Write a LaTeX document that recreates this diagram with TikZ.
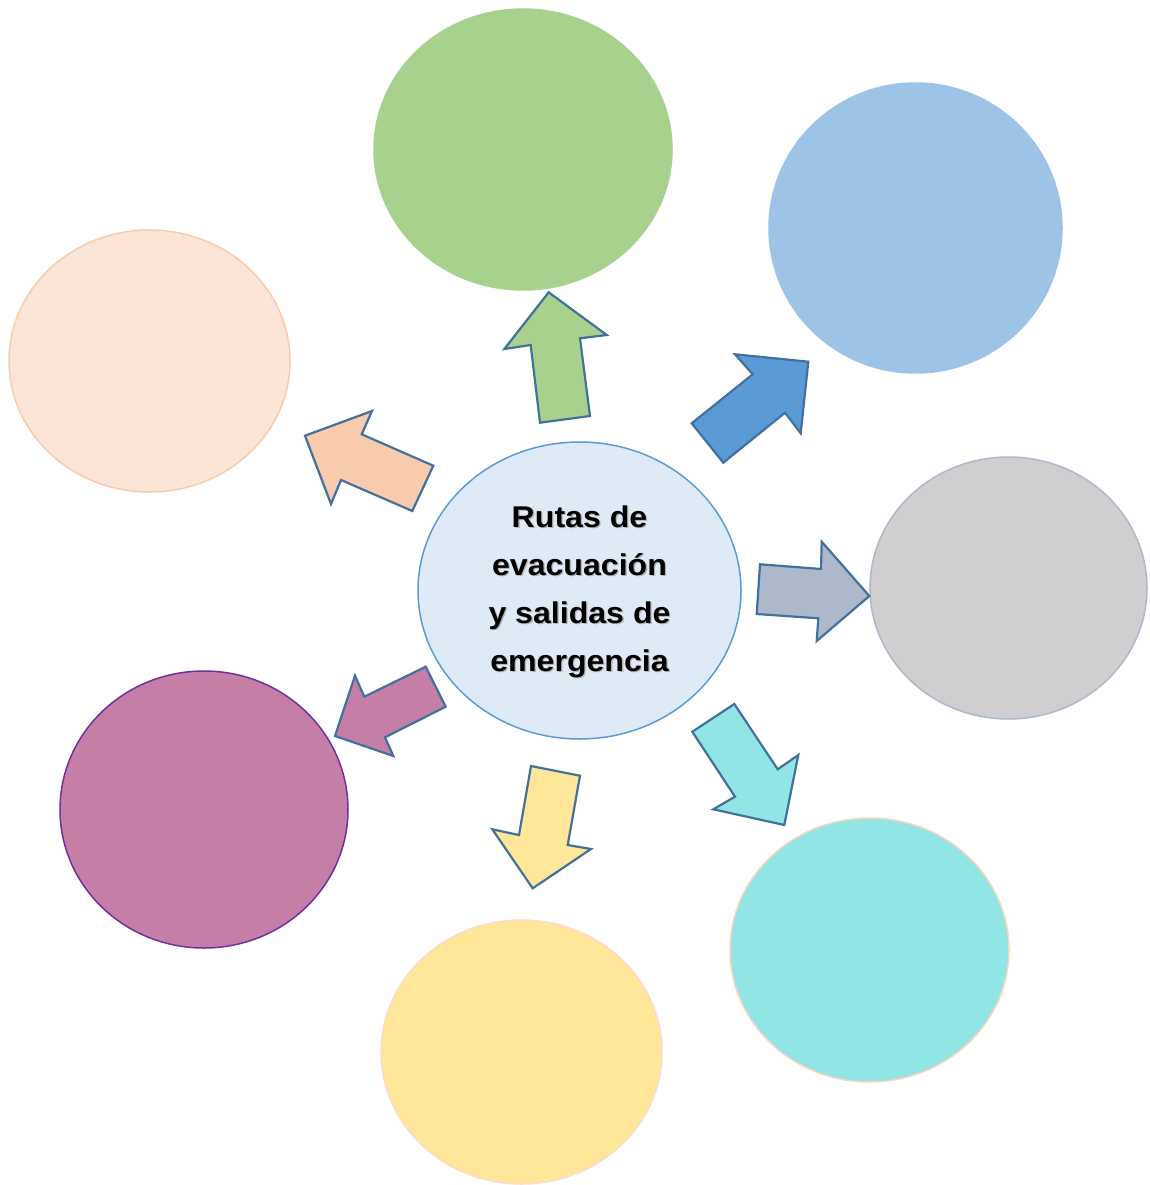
\documentclass[tikz,border=0pt]{standalone}
\usepackage{fontspec}
\setmainfont{Liberation Sans}
\newfontfamily\ctrfont[FakeStretch=1.07]{Liberation Sans Bold}
\usetikzlibrary{shapes.geometric}
\definecolor{cgreen}{HTML}{A9D18E}
\definecolor{cblue}{HTML}{9DC3E6}
\definecolor{cbluearr}{HTML}{5B9BD5}
\definecolor{cpeach}{HTML}{FBE5D6}
\definecolor{cpeachb}{HTML}{F8CBAD}
\definecolor{cgrey}{HTML}{D0CECE}
\definecolor{cgreyb}{HTML}{ADB9CA}
\definecolor{cpurple}{HTML}{C57FA6}
\definecolor{cpurpleb}{HTML}{7030A0}
\definecolor{cyellow}{HTML}{FFE699}
\definecolor{cyellowb}{HTML}{FADCCB}
\definecolor{ccyan}{HTML}{91E5E4}
\definecolor{ccyanb}{HTML}{FBD5C0}
\definecolor{ccenter}{HTML}{DEEBF7}
\definecolor{ccenterb}{HTML}{5B9BD5}
\definecolor{arrline}{HTML}{41719C}
\tikzset{
  bubble/.style={ellipse, line width=1.5pt, inner sep=0pt},
  arr/.style={draw=arrline, line width=2.2pt, line join=miter},
  ctext/.style={font=\ctrfont\fontsize{30}{48}\selectfont, align=center, inner sep=0pt}
}
\begin{document}
\begin{tikzpicture}[x=1pt,y=-1pt]
\useasboundingbox (0,0) rectangle (1150,1185);
% outer bubbles
\node[bubble, fill=cgreen, draw=cgreen, minimum width=298, minimum height=281] (green) at (523,149.5) {};
\node[bubble, fill=cblue, draw=cblue, minimum width=293, minimum height=290] (blue) at (915.5,228) {};
\node[bubble, fill=cpeach, draw=cpeachb, minimum width=281, minimum height=262] (peach) at (149.5,361) {};
\node[bubble, fill=cgrey, draw=cgreyb, minimum width=277, minimum height=262] (grey) at (1008.5,588) {};
\node[bubble, fill=cpurple, draw=cpurpleb, minimum width=288, minimum height=277] (purple) at (204,809.5) {};
\node[bubble, fill=cyellow, draw=cyellowb, minimum width=281, minimum height=264] (yellow) at (521.5,1052) {};
\node[bubble, fill=ccyan, draw=ccyanb, minimum width=279, minimum height=264] (cyan) at (869.5,950) {};
% centre
\node[bubble, fill=ccenter, draw=ccenterb, minimum width=323, minimum height=297] (center) at (579.5,590.5) {};
\node[ctext, text=black!30] (ctextshadow) at (580.8,593.3) {Rutas de\\evacuación\\y salidas de\\emergencia};
\node[ctext] (ctext) at (579.5,592) {Rutas de\\evacuación\\y salidas de\\emergencia};
% arrows
\draw[arr, fill=cgreen] (540,422.7) -- (530.7,345) -- (504.3,349) -- (548.7,292.3) -- (606.7,335) -- (580,338.3) -- (590,416) -- cycle;
\draw[arr, fill=cbluearr] (691.7,423.3) -- (752.7,374.3) -- (735,354.3) -- (808.3,361.7) -- (800.7,433.3) -- (785,412.7) -- (723.3,462.7) -- cycle;
\draw[arr, fill=cpeachb] (433.3,465.7) -- (361.7,434.3) -- (372,411) -- (305,435.7) -- (331,504) -- (341,480) -- (412.3,511) -- cycle;
\draw[arr, fill=cgreyb] (760,564.3) -- (821,569) -- (821.7,541.7) -- (869.3,596) -- (816.7,641) -- (818.3,618.3) -- (756.7,614) -- cycle;
\draw[arr, fill=ccyan] (692.3,731.7) -- (734.3,704) -- (777.7,769.3) -- (798.3,755) -- (784.3,825) -- (713.3,809.3) -- (735,796.7) -- cycle;
\draw[arr, fill=cyellow] (531,766) -- (580,775.7) -- (567.7,845) -- (591,849) -- (532.7,888.3) -- (492.3,829.3) -- (519,835) -- cycle;
\draw[arr, fill=cpurple] (425.7,666.7) -- (445.7,706.7) -- (385,737.3) -- (393.3,756) -- (335,736) -- (355,675.7) -- (364.3,696.7) -- cycle;
\end{tikzpicture}
\end{document}
